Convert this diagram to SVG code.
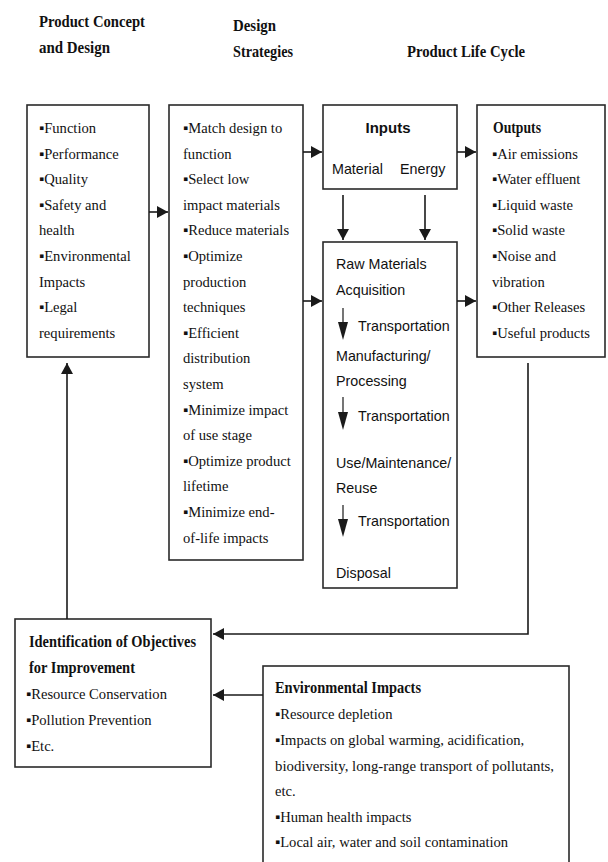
<svg xmlns="http://www.w3.org/2000/svg" width="608" height="862" viewBox="0 0 608 862">
<defs>
<marker id="ah" markerUnits="userSpaceOnUse" markerWidth="11" markerHeight="12" refX="11" refY="6" orient="auto">
<path d="M0,0 L11,6 L0,12 Z" fill="#1a1a1a"/>
</marker>
<style>
.box{fill:#fff;stroke:#2a2a2a;stroke-width:1.6}
.ln{fill:none;stroke:#1a1a1a;stroke-width:1.6}
.thin{fill:none;stroke:#1a1a1a;stroke-width:1.2}
.hd{font-family:"Liberation Serif","Times New Roman",serif;font-weight:bold;font-size:16px;fill:#111}
.tx{font-family:"Liberation Serif","Times New Roman",serif;font-size:14.6px;fill:#111}
.sx{font-family:"Liberation Sans",Arial,sans-serif;font-size:14.3px;fill:#111}
.sb{font-family:"Liberation Sans",Arial,sans-serif;font-size:15px;font-weight:bold;fill:#111}
.tri{fill:#1a1a1a}
</style>
</defs>
<rect width="608" height="862" fill="#fff"/>

<g id="headings">
<text class="hd" x="39" y="27" textLength="106" lengthAdjust="spacingAndGlyphs">Product Concept</text>
<text class="hd" x="39" y="53" textLength="71" lengthAdjust="spacingAndGlyphs">and Design</text>
<text class="hd" x="233" y="31" textLength="43" lengthAdjust="spacingAndGlyphs">Design</text>
<text class="hd" x="233" y="57" textLength="60" lengthAdjust="spacingAndGlyphs">Strategies</text>
<text class="hd" x="407" y="57" textLength="118" lengthAdjust="spacingAndGlyphs">Product Life Cycle</text>
</g>

<g id="concept">
<rect class="box" x="27" y="105" width="122" height="252"/>
<text class="tx" x="39" y="133">▪Function</text>
<text class="tx" x="39" y="158.6">▪Performance</text>
<text class="tx" x="39" y="184.2">▪Quality</text>
<text class="tx" x="39" y="209.8">▪Safety and</text>
<text class="tx" x="39" y="235.4">health</text>
<text class="tx" x="39" y="261">▪Environmental</text>
<text class="tx" x="39" y="286.6">Impacts</text>
<text class="tx" x="39" y="312.2">▪Legal</text>
<text class="tx" x="39" y="337.8">requirements</text>
</g>

<g id="strategies">
<rect class="box" x="169" y="105" width="134" height="455"/>
<text class="tx" x="183" y="133">▪Match design to</text>
<text class="tx" x="183" y="158.6">function</text>
<text class="tx" x="183" y="184.2">▪Select low</text>
<text class="tx" x="183" y="209.8">impact materials</text>
<text class="tx" x="183" y="235.4">▪Reduce materials</text>
<text class="tx" x="183" y="261">▪Optimize</text>
<text class="tx" x="183" y="286.6">production</text>
<text class="tx" x="183" y="312.2">techniques</text>
<text class="tx" x="183" y="337.8">▪Efficient</text>
<text class="tx" x="183" y="363.4">distribution</text>
<text class="tx" x="183" y="389">system</text>
<text class="tx" x="183" y="414.6">▪Minimize impact</text>
<text class="tx" x="183" y="440.2">of use stage</text>
<text class="tx" x="183" y="465.8">▪Optimize product</text>
<text class="tx" x="183" y="491.4">lifetime</text>
<text class="tx" x="183" y="517">▪Minimize end-</text>
<text class="tx" x="183" y="542.6">of-life impacts</text>
</g>

<g id="inputs">
<rect class="box" x="323" y="105" width="134" height="84"/>
<text class="sb" x="388" y="133" text-anchor="middle">Inputs</text>
<text class="sx" x="332" y="174">Material</text>
<text class="sx" x="400" y="174">Energy</text>
</g>

<g id="lifecycle">
<rect class="box" x="323" y="242" width="134" height="346"/>
<text class="sx" x="336" y="269">Raw Materials</text>
<text class="sx" x="336" y="295">Acquisition</text>
<line class="thin" x1="343" y1="308" x2="343" y2="324"/>
<polygon class="tri" points="338,322 348,322 343,340"/>
<text class="sx" x="358" y="331">Transportation</text>
<text class="sx" x="336" y="361">Manufacturing/</text>
<text class="sx" x="336" y="386">Processing</text>
<line class="thin" x1="343" y1="397" x2="343" y2="414"/>
<polygon class="tri" points="338,412 348,412 343,430"/>
<text class="sx" x="358" y="421">Transportation</text>
<text class="sx" x="336" y="468">Use/Maintenance/</text>
<text class="sx" x="336" y="493">Reuse</text>
<line class="thin" x1="343" y1="505" x2="343" y2="521"/>
<polygon class="tri" points="338,519 348,519 343,537"/>
<text class="sx" x="358" y="526">Transportation</text>
<text class="sx" x="336" y="578">Disposal</text>
</g>

<g id="outputs">
<rect class="box" x="477" y="105" width="128" height="252"/>
<text class="hd" x="493" y="133" textLength="48" lengthAdjust="spacingAndGlyphs">Outputs</text>
<text class="tx" x="492" y="158.6">▪Air emissions</text>
<text class="tx" x="492" y="184.2">▪Water effluent</text>
<text class="tx" x="492" y="209.8">▪Liquid waste</text>
<text class="tx" x="492" y="235.4">▪Solid waste</text>
<text class="tx" x="492" y="261">▪Noise and</text>
<text class="tx" x="492" y="286.6">vibration</text>
<text class="tx" x="492" y="312.2">▪Other Releases</text>
<text class="tx" x="492" y="337.8">▪Useful products</text>
</g>

<g id="objectives">
<rect class="box" x="15" y="619" width="196" height="148"/>
<text class="hd" x="29" y="647" textLength="167" lengthAdjust="spacingAndGlyphs">Identification of Objectives</text>
<text class="hd" x="29" y="673" textLength="106" lengthAdjust="spacingAndGlyphs">for Improvement</text>
<text class="tx" x="26" y="699">▪Resource Conservation</text>
<text class="tx" x="26" y="725">▪Pollution Prevention</text>
<text class="tx" x="26" y="751">▪Etc.</text>
</g>

<g id="envimpacts">
<rect class="box" x="263" y="666" width="306" height="210"/>
<text class="hd" x="275" y="693" textLength="146" lengthAdjust="spacingAndGlyphs">Environmental Impacts</text>
<text class="tx" x="275" y="719">▪Resource depletion</text>
<text class="tx" x="275" y="745">▪Impacts on global warming, acidification,</text>
<text class="tx" x="275" y="771" textLength="279" lengthAdjust="spacingAndGlyphs">biodiversity, long-range transport of pollutants,</text>
<text class="tx" x="275" y="796">etc.</text>
<text class="tx" x="275" y="822">▪Human health impacts</text>
<text class="tx" x="275" y="847">▪Local air, water and soil contamination</text>
</g>

<g id="connectors">
<line class="ln" x1="149" y1="212" x2="168" y2="212" marker-end="url(#ah)"/>
<line class="ln" x1="303" y1="152" x2="322" y2="152" marker-end="url(#ah)"/>
<line class="ln" x1="303" y1="301" x2="322" y2="301" marker-end="url(#ah)"/>
<line class="ln" x1="457" y1="152" x2="476" y2="152" marker-end="url(#ah)"/>
<line class="ln" x1="457" y1="301" x2="476" y2="301" marker-end="url(#ah)"/>
<line class="ln" x1="343" y1="195" x2="343" y2="240" marker-end="url(#ah)"/>
<line class="ln" x1="425" y1="195" x2="425" y2="240" marker-end="url(#ah)"/>
<polyline class="ln" points="528,363 528,634 213,634" marker-end="url(#ah)"/>
<line class="ln" x1="263" y1="695" x2="213" y2="695" marker-end="url(#ah)"/>
<line class="ln" x1="67" y1="619" x2="67" y2="363" marker-end="url(#ah)"/>
</g>
</svg>
